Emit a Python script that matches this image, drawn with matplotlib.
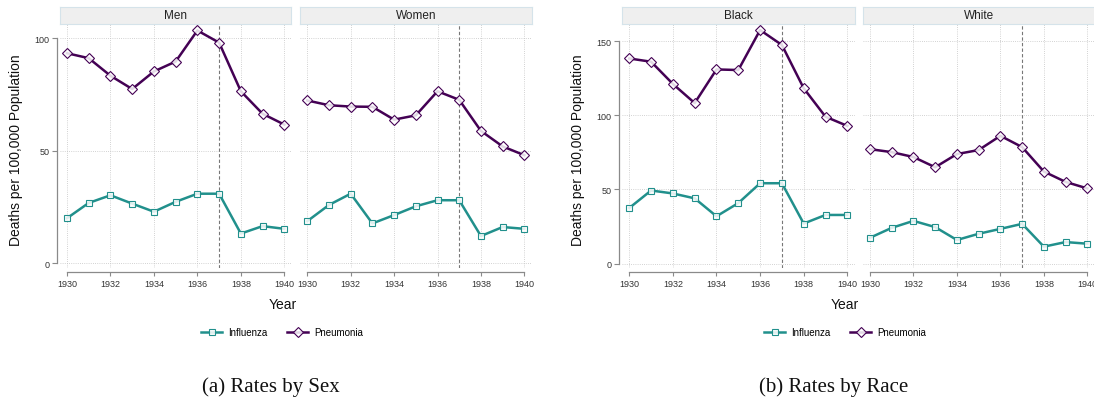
import matplotlib
matplotlib.use("Agg")
import matplotlib.pyplot as plt
from matplotlib.lines import Line2D

years = [1930, 1931, 1932, 1933, 1934, 1935, 1936, 1937, 1938, 1939, 1940]

men_pneumonia = [93.4, 91.2, 83.4, 77.5, 85.3, 89.7, 103.5, 98.1, 76.5, 66.5, 61.7]
men_influenza = [20.1, 26.9, 30.3, 26.6, 23.0, 27.4, 31.0, 31.0, 13.3, 16.6, 15.4]
women_pneumonia = [72.4, 70.3, 69.7, 69.6, 63.9, 65.8, 76.5, 72.7, 58.9, 52.0, 48.1]
women_influenza = [18.8, 26.0, 31.0, 17.8, 21.5, 25.4, 28.1, 28.1, 12.2, 16.2, 15.4]
black_pneumonia = [138.4, 136.2, 121.2, 108.3, 131.0, 130.6, 157.6, 147.5, 118.3, 99.1, 92.9]
black_influenza = [37.5, 49.3, 47.3, 44.0, 31.9, 40.8, 54.2, 54.2, 27.0, 32.8, 32.8]
white_pneumonia = [77.2, 75.2, 71.9, 65.0, 73.9, 76.6, 86.2, 78.6, 62.1, 55.1, 50.7]
white_influenza = [17.4, 24.1, 28.8, 24.6, 15.9, 20.1, 23.4, 26.8, 11.4, 14.5, 13.4]

panel_titles = ["Men", "Women", "Black", "White"]
series_names = ["Influenza", "Pneumonia"]
captions = ["(a) Rates by Sex", "(b) Rates by Race"]
x_ticks = [1930, 1932, 1934, 1936, 1938, 1940]
yticks_sex = [0, 50, 100]
yticks_race = [0, 50, 100, 150]
policy_year = 1937

plt.rcParams['font.family'] = ['Liberation Sans', 'DejaVu Sans']

W, H = 1094, 402
fig = plt.figure(figsize=(W / 100, H / 100), dpi=100)

C_INF = '#21908C'
C_PNE = '#440154'
FACE = (1, 1, 1, 0.85)

def fx(px):
    return px / W

def fy(py):
    return 1 - py / H

panels = [
    (59.8, 291.5, men_influenza, men_pneumonia, yticks_sex, (-2.0, 106.6), True),
    (300.1, 531.5, women_influenza, women_pneumonia, yticks_sex, (-2.0, 106.6), False),
    (622.1, 854.5, black_influenza, black_pneumonia, yticks_race, (-3.0, 162.0), True),
    (862.8, 1094.5, white_influenza, white_pneumonia, yticks_race, (-3.0, 162.0), False),
]
ax_top, ax_bot = 24.5, 269.0
strip_top = 8.3

for i, (l, r, inf, pne, yt, ylim, first) in enumerate(panels):
    ax = fig.add_axes([fx(l), fy(ax_bot), fx(r - l), (ax_bot - ax_top) / H])
    ax.set_xlim(1929.67, 1940.33)
    ax.set_ylim(*ylim)
    for s in ['top', 'right']:
        ax.spines[s].set_visible(False)
    ax.spines['bottom'].set_position(('outward', 3))
    ax.spines['bottom'].set_bounds(1930, 1940)
    ax.spines['bottom'].set_color('#8a8a8a')
    ax.spines['bottom'].set_linewidth(0.9)
    ax.set_xticks(x_ticks)
    ax.set_xticklabels([str(t) for t in x_ticks], fontsize=6.5, color='#333333')
    ax.tick_params(axis='x', length=3, width=0.8, color='#8a8a8a', pad=2)
    ax.set_yticks(yt)
    if first:
        ax.spines['left'].set_position(('outward', 2))
        ax.spines['left'].set_bounds(yt[0], yt[-1])
        ax.spines['left'].set_color('#8a8a8a')
        ax.spines['left'].set_linewidth(0.9)
        ax.set_yticklabels([str(t) for t in yt], fontsize=6.5, color='#333333')
        ax.tick_params(axis='y', length=3.5, width=0.8, color='#8a8a8a', pad=2)
    else:
        ax.spines['left'].set_visible(False)
        ax.tick_params(axis='y', length=0, labelleft=False)
    ax.grid(True, linestyle=(0, (1, 1.6)), color='#c4c4c4', linewidth=0.6)
    ax.set_axisbelow(True)
    ax.axvline(policy_year, color='#777777', linestyle=(0, (3, 2)), linewidth=0.8, zorder=1)
    ax.plot(years, inf, color=C_INF, linewidth=1.8, marker='s', markersize=5.0,
            markerfacecolor=FACE, markeredgecolor=C_INF, markeredgewidth=0.8, zorder=3)
    ax.plot(years, pne, color=C_PNE, linewidth=1.8, marker='D', markersize=4.8,
            markerfacecolor=FACE, markeredgecolor=C_PNE, markeredgewidth=0.8, zorder=3)
    sax = fig.add_axes([fx(l), fy(ax_top), fx(r - l), (ax_top - strip_top) / H])
    sax.set_xticks([]); sax.set_yticks([])
    sax.set_facecolor('#EFEFEF')
    for s in sax.spines.values():
        s.set_color('#D5E3EA')
        s.set_linewidth(0.8)
    sax.text(0.5, 0.5, panel_titles[i], ha='center', va='center', fontsize=8.5,
             color='#222222', transform=sax.transAxes)

for xc, yc in [(16.5, 150), (578, 150)]:
    fig.text(fx(xc), fy(yc), "Deaths per 100,000 Population", rotation=90,
             ha='center', va='center', fontsize=10, color='#111111')
for xc in [282.5, 845]:
    fig.text(fx(xc), fy(305), "Year", ha='center', va='center', fontsize=10, color='#111111')

handles = [
    Line2D([], [], color=C_INF, linewidth=1.8, marker='s', markersize=5.0,
           markerfacecolor=FACE, markeredgecolor=C_INF, markeredgewidth=0.8),
    Line2D([], [], color=C_PNE, linewidth=1.8, marker='D', markersize=4.8,
           markerfacecolor=FACE, markeredgecolor=C_PNE, markeredgewidth=0.8),
]
for xc in [282, 845]:
    fig.legend(handles, series_names, loc='center', bbox_to_anchor=(fx(xc), fy(333)),
               ncol=2, frameon=False, fontsize=7, handlelength=2.2, handletextpad=0.6,
               columnspacing=2.0, borderaxespad=0)

for xc, cap in zip([271, 834], captions):
    fig.text(fx(xc), fy(387), cap, ha='center', va='center', fontsize=15,
             family=['Liberation Serif', 'DejaVu Serif'], color='#111111')

fig.savefig('out.png', dpi=100)
